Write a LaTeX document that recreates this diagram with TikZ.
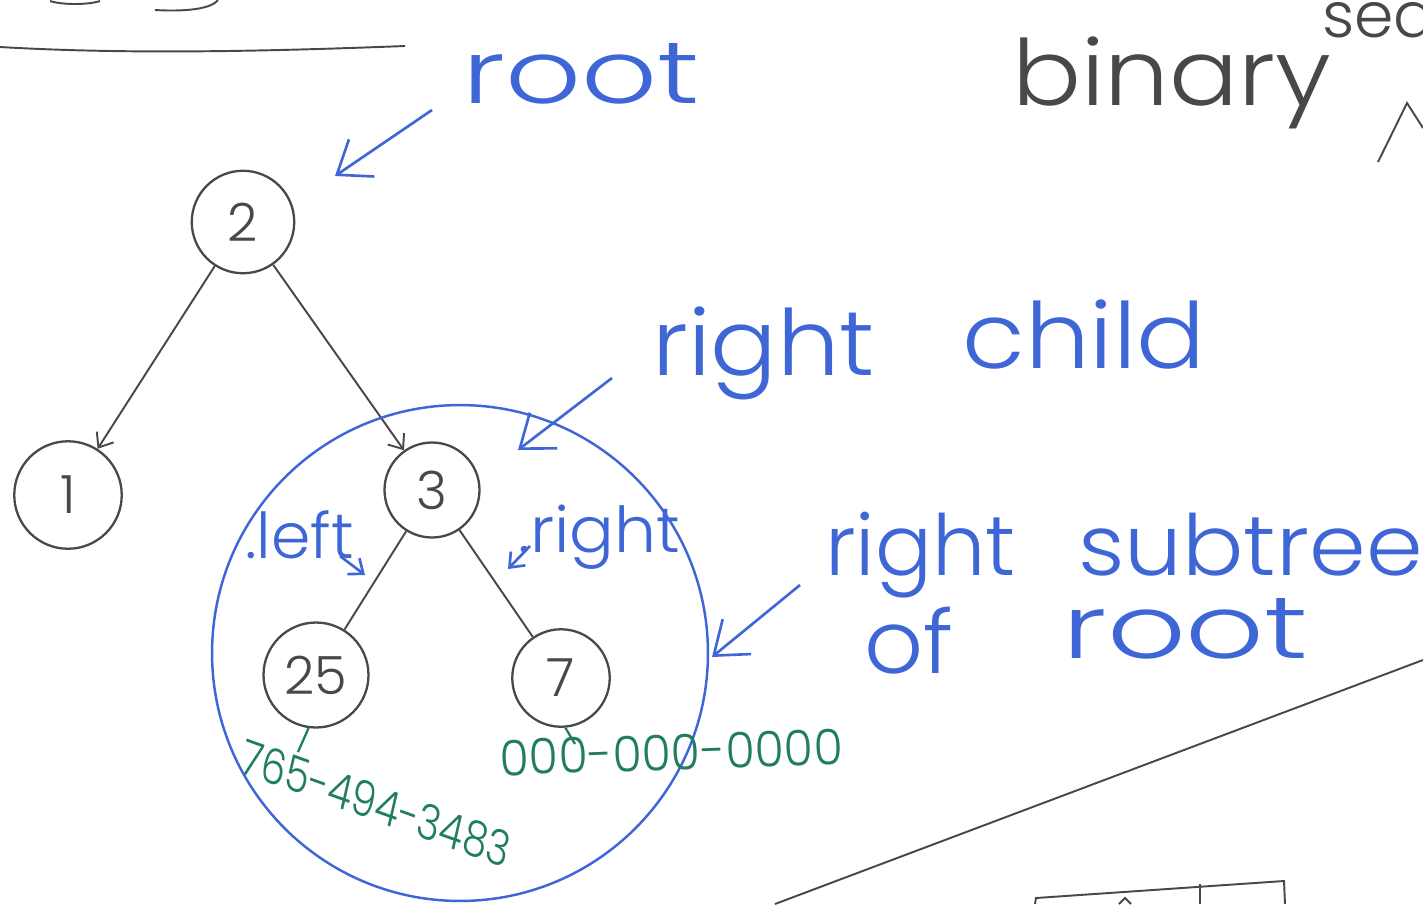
\documentclass[tikz,border=0pt]{standalone}
\usepackage{fontspec}
\setmainfont{Poppins}[UprightFont={* Light}]
\usetikzlibrary{arrows.meta}
\definecolor{hblue}{RGB}{62,102,214}
\definecolor{hgray}{RGB}{72,72,72}
\definecolor{hgreen}{RGB}{32,125,96}
\tikzset{
  treenode/.style={circle, draw=hgray, line width=1.3pt, inner sep=0pt, text=hgray, font=\fontsize{30pt}{34pt}\selectfont},
  treeedge/.style={draw=hgray, line width=1.1pt},
  treearrow/.style={treeedge, -{Straight Barb[length=2.5mm,width=4mm]}},
  bluearrow/.style={draw=hblue, line width=1.5pt, -{Straight Barb[length=6mm,width=9mm]}},
  smallblue/.style={draw=hblue, line width=1.5pt, -{Straight Barb[length=2.5mm,width=4mm]}},
  bluetext/.style={text=hblue, anchor=base west, inner sep=0pt},
  graytext/.style={text=hgray, anchor=base west, inner sep=0pt},
  greentext/.style={text=hgreen, anchor=base west, inner sep=0pt},
  greentick/.style={draw=hgreen, line width=1.3pt},
  pen/.style={draw=hgray, line width=1.1pt},
}
\begin{document}
\begin{tikzpicture}[x=0.02cm,y=-0.02cm]
\clip (0,0) rectangle (1423,904);
\fill[white] (0,0) rectangle (1423,904);

% top-left partial writing and underline
\draw[pen] (50,1) .. controls (62,5) and (88,5) .. (100,1);
\draw[pen] (155,10) .. controls (190,12) and (212,8) .. (218,0);
\draw[pen] (0,47) .. controls (120,54) and (250,52) .. (405,46);

% tree
\node[treenode, minimum size=2.05cm] (n2) at (243,222) {2};
\node[treenode, minimum size=2.15cm] (n1) at (68,495) {1};
\node[treenode, minimum size=1.9cm] (n3) at (432,490) {3};
\node[treenode, minimum size=2.1cm] (n25) at (316,675) {25};
\node[treenode, minimum size=1.95cm] (n7) at (561,678) {7};
\draw[treearrow] (n2) -- (n1);
\draw[treearrow] (n2) -- (n3);
\draw[treeedge] (n3) -- (n25);
\draw[treeedge] (n3) -- (n7);

% right subtree outline
\node[circle, draw=hblue, line width=1.4pt, minimum size=9.92cm, inner sep=0pt] (sub) at (460,653) {};

% root label
\node[bluetext, xscale=1.35, font=\fontsize{50pt}{52pt}\selectfont] (troot) at (462,103) {root};
\coordinate (ra1) at (432,110);
\coordinate (ra2) at (335,176);
\draw[bluearrow] (ra1) -- (ra2);

% binary search (partly cut off)
\node[graytext, xscale=1.12, font=\fontsize{52pt}{54pt}\selectfont] (tbin) at (1012,105) {binary};
\node[graytext, font=\fontsize{36pt}{38pt}\selectfont] (tsea) at (1322,37) {sea};
\draw[pen] (1378,162) -- (1407,103) -- (1423,128);

% right child
\node[bluetext, xscale=1.08, font=\fontsize{52pt}{54pt}\selectfont] (trc1) at (652,375) {right};
\node[bluetext, xscale=1.12, font=\fontsize{52pt}{54pt}\selectfont] (trc2) at (962,368) {child};
\coordinate (ca1) at (612,378);
\coordinate (ca2) at (518,450);
\draw[bluearrow] (ca1) -- (ca2);

% right subtree of root
\node[bluetext, font=\fontsize{48pt}{50pt}\selectfont] (trs1) at (825,575) {right};
\node[bluetext, xscale=1.08, font=\fontsize{48pt}{50pt}\selectfont] (trs2) at (1078,575) {subtree};
\node[bluetext, xscale=1.05, font=\fontsize{50pt}{52pt}\selectfont] (trs3) at (864,673) {of};
\node[bluetext, xscale=1.4, font=\fontsize{50pt}{52pt}\selectfont] (trs4) at (1062,658) {root};
\coordinate (sa1) at (800,585);
\coordinate (sa2) at (712,657);
\draw[bluearrow] (sa1) -- (sa2);

% .left / .right
\node[bluetext, font=\fontsize{36pt}{38pt}\selectfont] (tleft) at (245,558) {.left};
\coordinate (la1) at (340,556);
\coordinate (la2) at (365,575);
\draw[smallblue] (la1) -- (la2);
\node[bluetext, xscale=1.05, font=\fontsize{36pt}{38pt}\selectfont] (tright) at (518,552) {.right};
\coordinate (rr1) at (530,546);
\coordinate (rr2) at (508,569);
\draw[smallblue] (rr1) -- (rr2);

% phone numbers
\coordinate (g25) at (298,752);
\draw[greentick] (n25.262) -- (g25);
\node[greentext, xscale=0.8, rotate=-16, font=\fontsize{28pt}{30pt}\selectfont] (ph1) at (238,772) {765-494-3483};
\coordinate (g7) at (575,744);
\draw[greentick] (n7.275) -- (g7);
\node[greentext, rotate=2, xscale=0.97, font=\fontsize{28pt}{30pt}\selectfont] (ph2) at (500,776) {000-000-0000};

% lower right sketch
\draw[pen] (775,904) -- (1423,660);
\draw[pen] (1035,904) -- (1036,898) -- (1284,881) -- (1285,904);
\draw[pen] (1200,884) -- (1200,904);
\draw[pen] (1119,904) -- (1125,898) -- (1131,904);
\end{tikzpicture}
\end{document}
